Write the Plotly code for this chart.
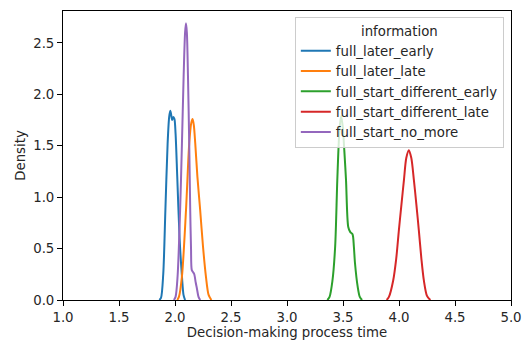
import plotly.graph_objects as go

# Series (x = decision-making process time, y = density)
names = ["full_later_early", "full_later_late", "full_start_different_early",
         "full_start_different_late", "full_start_no_more"]
colors = ["#1f77b4", "#ff7f0e", "#2ca02c", "#d62728", "#9467bd"]

x_later_early = [1.86, 1.875, 1.895, 1.914, 1.934, 1.948, 1.958, 1.966, 1.975, 1.985, 1.995, 2.005, 2.02, 2.041, 2.062, 2.076, 2.09]
y_later_early = [0.0, 0.02, 0.25, 0.87, 1.52, 1.78, 1.84, 1.80, 1.75, 1.78, 1.76, 1.62, 1.20, 0.60, 0.23, 0.05, 0.0]

x_later_late = [2.02, 2.035, 2.062, 2.098, 2.127, 2.145, 2.157, 2.168, 2.181, 2.20, 2.225, 2.25, 2.276, 2.30, 2.325]
y_later_late = [0.0, 0.03, 0.23, 0.87, 1.52, 1.72, 1.76, 1.70, 1.52, 1.20, 0.87, 0.52, 0.23, 0.05, 0.0]

x_start_diff_early = [3.36, 3.38, 3.405, 3.43, 3.449, 3.468, 3.483, 3.498, 3.512, 3.527, 3.547, 3.565, 3.585, 3.597, 3.607, 3.631, 3.65, 3.67]
y_start_diff_early = [0.0, 0.03, 0.18, 0.52, 1.165, 1.65, 1.79, 1.68, 1.45, 1.165, 0.71, 0.66, 0.64, 0.52, 0.36, 0.13, 0.03, 0.0]

x_start_diff_late = [3.89, 3.91, 3.948, 3.975, 3.999, 4.022, 4.044, 4.065, 4.088, 4.11, 4.133, 4.155, 4.177, 4.20, 4.222, 4.25, 4.28]
y_start_diff_late = [0.0, 0.03, 0.19, 0.40, 0.68, 0.93, 1.165, 1.38, 1.456, 1.38, 1.165, 0.93, 0.68, 0.40, 0.19, 0.04, 0.0]

x_start_no_more = [1.99, 2.005, 2.023, 2.045, 2.062, 2.077, 2.09, 2.098, 2.106, 2.116, 2.127, 2.136, 2.143, 2.150, 2.162, 2.172, 2.185, 2.196, 2.21, 2.225]
y_start_no_more = [0.0, 0.03, 0.23, 0.85, 1.52, 2.17, 2.60, 2.69, 2.60, 2.17, 1.52, 0.87, 0.50, 0.29, 0.27, 0.25, 0.17, 0.11, 0.03, 0.0]

xs = [x_later_early, x_later_late, x_start_diff_early, x_start_diff_late, x_start_no_more]
ys = [y_later_early, y_later_late, y_start_diff_early, y_start_diff_late, y_start_no_more]

x_ticks = [1.0, 1.5, 2.0, 2.5, 3.0, 3.5, 4.0, 4.5, 5.0]
y_ticks = [0.0, 0.5, 1.0, 1.5, 2.0, 2.5]

FONT = "DejaVu Sans"
TXT = "#262626"
FS = 13.3

fig = go.Figure()
for n, c, x, y in zip(names, colors, xs, ys):
    fig.add_trace(go.Scatter(x=x, y=y, name=n, mode="lines",
                             line=dict(color=c, width=2, shape="spline", smoothing=0.8)))

axis_common = dict(showline=True, mirror=True, linecolor="black", linewidth=1,
                   ticks="outside", ticklen=5, tickwidth=1, tickcolor="black",
                   showgrid=False, zeroline=False, automargin=False,
                   tickfont=dict(family=FONT, size=FS, color=TXT))

fig.update_layout(
    width=522, height=341,
    margin=dict(l=63, r=11, t=11, b=41),
    paper_bgcolor="white", plot_bgcolor="white",
    font=dict(family=FONT, size=FS, color=TXT),
    xaxis=dict(range=[1.0, 5.0], tickvals=x_ticks, ticktext=[f"{v:.1f}" for v in x_ticks],
               title=dict(text="Decision-making process time", standoff=2,
                          font=dict(family=FONT, size=FS, color=TXT)),
               **axis_common),
    yaxis=dict(range=[0, 2.81], tickvals=y_ticks, ticktext=[f"{v:.1f}" for v in y_ticks],
               title=dict(text="Density", standoff=4,
                          font=dict(family=FONT, size=FS, color=TXT)),
               **axis_common),
    legend=dict(x=0.984, y=0.978, xanchor="right", yanchor="top",
                bgcolor="rgba(255,255,255,0.8)", bordercolor="#cccccc", borderwidth=1,
                title=dict(text="information", side="top center",
                           font=dict(family=FONT, size=FS, color=TXT)),
                font=dict(family=FONT, size=FS, color=TXT),
                itemwidth=30, tracegroupgap=0),
    showlegend=True,
)

fig.write_html("out.html", config={"displayModeBar": False},
               post_script="document.body.style.margin='0';document.body.style.overflow='hidden';")
